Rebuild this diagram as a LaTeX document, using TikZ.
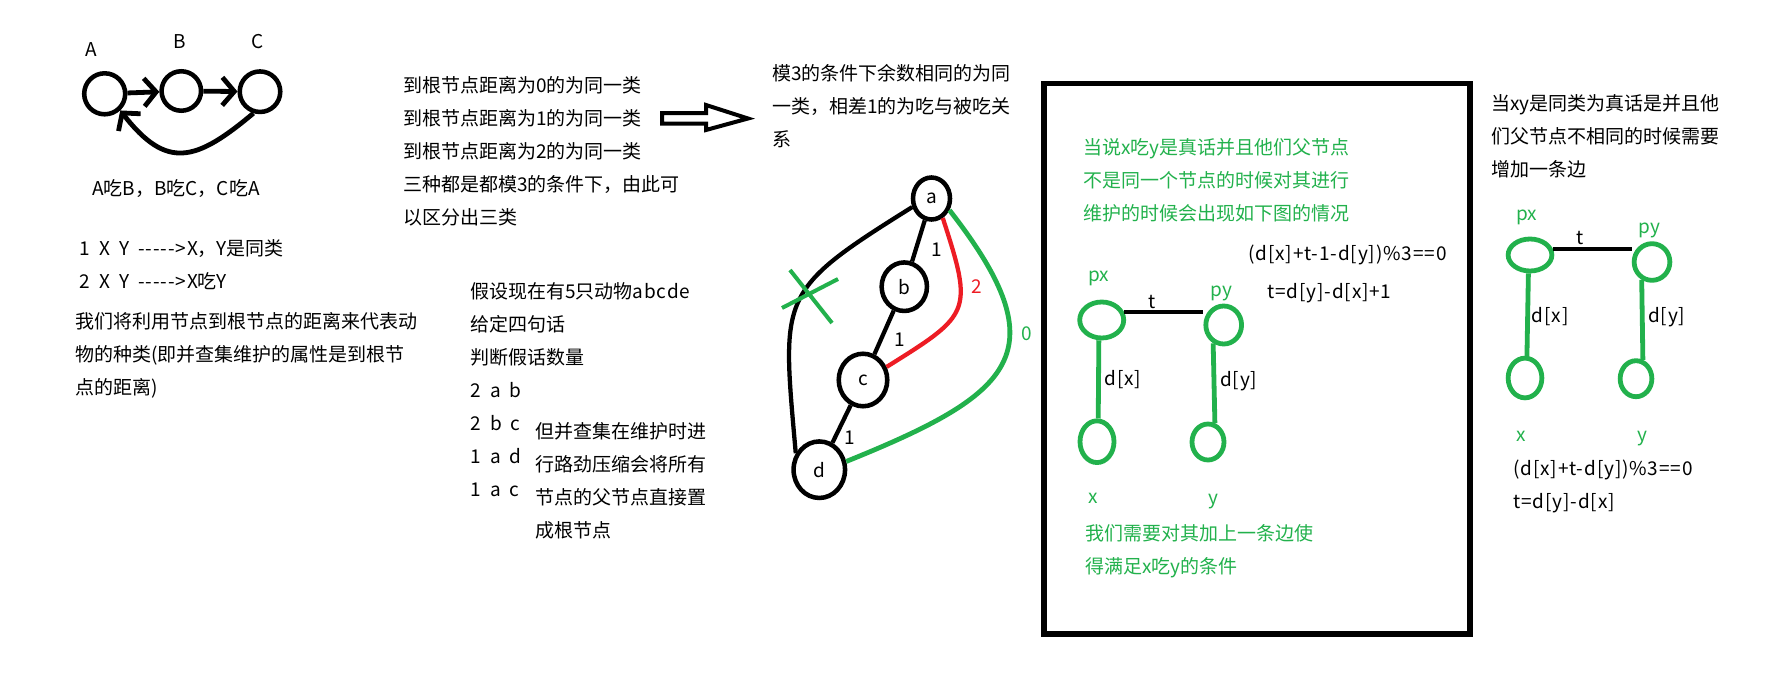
\documentclass[tikz,border=0pt]{standalone}
\usepackage{fontspec}
\usepackage{xcolor}
\usepackage{tikz}
\usetikzlibrary{arrows.meta, shapes.geometric}
\newfontfamily\cjk{Noto Sans CJK SC}
\newfontfamily\latfont[LetterSpace=4.5, WordSpace=1.8]{Noto Sans CJK SC}
\newcommand\latn[1]{{\latfont #1}}
\definecolor{pgreen}{RGB}{34,177,76}
\definecolor{pred}{RGB}{237,28,36}

\begin{document}
\begin{tikzpicture}[x=0.75pt, y=-0.75pt,
    txt/.style={font=\cjk\fontsize{14.25pt}{24.75pt}\selectfont, inner sep=0pt, align=left},
    gtxt/.style={txt, text=pgreen},
    ring/.style={txt, draw, ellipse, line width=3.4pt},
    gring/.style={draw=pgreen, ellipse, line width=3.6pt, inner sep=0pt},
    bline/.style={line width=3.2pt},
    gline/.style={line width=3.6pt, draw=pgreen},
    barb/.style={-{Straight Barb[length=9pt, width=21pt]}}]
    \useasboundingbox (0,0) rectangle (1791,674);

    % 1. A吃B，B吃C，C吃A
    \node[ring, minimum width=30.75pt, minimum height=30.75pt] (A) at (104.7,93.8) {};
    \node[ring, minimum width=29.6pt, minimum height=29.6pt] (B) at (181.3,91) {};
    \node[ring, minimum width=30.4pt, minimum height=30.4pt] (C) at (260,91.7) {};
    \node[txt] (lA) at (91.7,49.3) {A};
    \node[txt] (lB) at (180,41.8) {B};
    \node[txt] (lC) at (257.5,41.3) {C};
    \draw[line width=3.6pt, barb] (A) -- (B);
    \draw[line width=3.6pt, barb] (B) -- (C);
    \draw[line width=3.6pt, barb] (C.-107) to[out=-140, in=-52, looseness=1.45] (A.-47);
    \node[txt, anchor=west] (eat) at (92,189) {A吃B，B吃C，C吃A};
    \node[txt, anchor=west] (rule) at (79,264.5) {\latn{1 X Y -{}-{}-{}-{}-{}>X}，\latn{Y}是同类\\\latn{2 X Y -{}-{}-{}-{}-{}>X}吃\latn{Y}};
    \node[txt, anchor=west] (idea) at (75,355.5) {我们将利用节点到根节点的距离来代表动\\物的种类(即并查集维护的属性是到根节\\点的距离)};

    % 2. 到根节点的距离
    \node[txt, anchor=west] (dist) at (403,151.5) {到根节点距离为0的为同一类\\到根节点距离为1的为同一类\\到根节点距离为2的为同一类\\三种都是都模3的条件下，由此可\\以区分出三类};
    \draw[line width=3pt] (662,113) -- (706,113) -- (706,105) -- (748,118.5)
        -- (706,130) -- (706,123.5) -- (662,123.5) -- cycle;
    \node[txt, anchor=west] (mod) at (772,106.5) {模3的条件下余数相同的为同\\一类，相差1的为吃与被吃关\\系};
    \node[txt, anchor=west] (ex) at (470,390) {假设现在有5只动物\latn{abcde}\\给定四句话\\判断假话数量\\\latn{2 a b}\\\latn{2 b c}\\\latn{1 a d}\\\latn{1 a c}};
    \node[txt, anchor=west] (cmp) at (535,481) {但并查集在维护时进\\行路劲压缩会将所有\\节点的父节点直接置\\成根节点};

    % 3. 路径压缩
    \node[ring, minimum width=27.75pt, minimum height=31.5pt] (a) at (931.5,198.5) {a};
    \node[ring, minimum width=34pt, minimum height=36.4pt] (b) at (904.3,286.7) {b};
    \node[ring, minimum width=36.4pt, minimum height=39.4pt] (c) at (863,380) {c};
    \node[ring, minimum width=38.6pt, minimum height=42.4pt] (d) at (819.3,469.7) {d};
    \draw[bline] (a) -- (b) (b) -- (c) (c) -- (d);
    \node[txt] (w1) at (936.7,250) {1};
    \node[txt] (w2) at (900,340) {1};
    \node[txt] (w3) at (849.3,437.7) {1};
    \draw[bline, pred] (a.-60) to[out=-72, in=32, looseness=1.6] (c.29);
    \node[txt, text=pred] (w4) at (976.7,286.7) {2};
    \draw[gline] (a.-33) to[out=-52, in=22, looseness=1.7] (d.17);
    \node[gtxt] (w5) at (1026.7,333.3) {0};
    \draw[bline] (a.204) to[out=212, in=95, looseness=1.5] (d.145);
    \coordinate (cut) at (809,294);
    \draw[gline, line width=3pt] (cut) ++(-19,-24) -- ++(42,53) (cut) ++(-27,14) -- ++(56,-29);

    % 4. x吃y
    \draw[line width=3.8pt] (1044,83.5) rectangle (1470,634);
    \node[gtxt, anchor=west] (g1) at (1083,180.5) {当说x吃y是真话并且他们父节点\\不是同一个节点的时候对其进行\\维护的时候会出现如下图的情况};
    \node[txt, anchor=west] (f1) at (1248,255) {\latn{(d[x]+t-1-d[y])\%3==0}};
    \node[txt, anchor=west] (f2) at (1267,293) {\latn{t=d[y]-d[x]+1}};
    \node[gring, minimum width=33pt, minimum height=27pt] (px1) at (1101.7,320) {};
    \node[gring, minimum width=26.8pt, minimum height=28.5pt] (py1) at (1223.7,325) {};
    \node[gring, minimum width=25.5pt, minimum height=31.3pt] (x1) at (1097,441.7) {};
    \node[gring, minimum width=24pt, minimum height=27pt] (y1) at (1208,442) {};
    \draw[bline] (px1.20) -- (px1.20 -| py1.west);
    \draw[gline] (px1.262) -- (x1.87);
    \draw[gline] (py1.240) -- (y1.70);
    \node[txt] (t1) at (1151.7,302) {t};
    \node[txt] (dx1) at (1122.8,379.5) {\latn{d[x]}};
    \node[txt] (dy1) at (1238.8,380.8) {\latn{d[y]}};
    \node[gtxt] (lpx1) at (1098.7,278.3) {px};
    \node[gtxt] (lpy1) at (1221.7,293.8) {py};
    \node[gtxt] (lx1) at (1092.8,498.7) {x};
    \node[gtxt] (ly1) at (1213.7,501.7) {y};
    \node[gtxt, anchor=west] (g2) at (1085,551.5) {我们需要对其加上一条边使\\得满足x吃y的条件};

    % 5. x与y同类
    \node[txt, anchor=west] (r1) at (1491,136) {当xy是同类为真话是并且他\\们父节点不相同的时候需要\\增加一条边};
    \node[gring, minimum width=32.8pt, minimum height=24pt] (px2) at (1530,255) {};
    \node[gring, minimum width=26.8pt, minimum height=27.5pt] (py2) at (1652,262) {};
    \node[gring, minimum width=25.3pt, minimum height=29.8pt] (x2) at (1525,378) {};
    \node[gring, minimum width=23.8pt, minimum height=27pt] (y2) at (1636,378.7) {};
    \draw[bline] (px2.14) -- (px2.14 -| py2.west);
    \draw[gline] (px2.265) -- (x2.85);
    \draw[gline] (py2.240) -- (y2.70);
    \node[txt] (t2) at (1579.7,238.3) {t};
    \node[txt] (dx2) at (1550.3,316.3) {\latn{d[x]}};
    \node[txt] (dy2) at (1666.7,317) {\latn{d[y]}};
    \node[gtxt] (lpx2) at (1526.7,217) {px};
    \node[gtxt] (lpy2) at (1649.5,230.5) {py};
    \node[gtxt] (lx2) at (1520.8,436) {x};
    \node[gtxt] (ly2) at (1642,439) {y};
    \node[txt, anchor=west] (f3) at (1513,486) {\latn{(d[x]+t-d[y])\%3==0}\\\latn{t=d[y]-d[x]}};
\end{tikzpicture}
\end{document}
